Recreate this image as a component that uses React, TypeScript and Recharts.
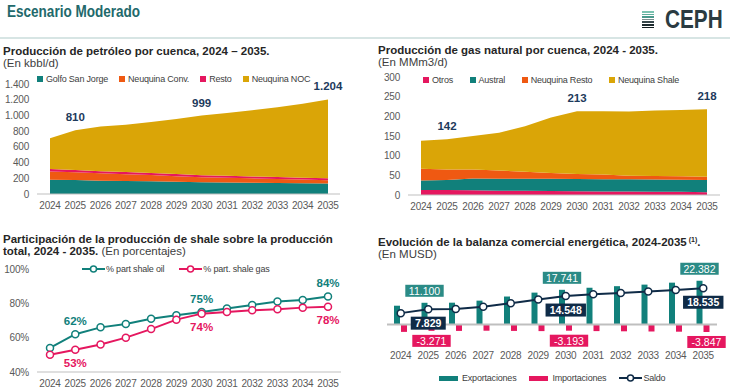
import React from "react";
import {
  AreaChart, Area, LineChart, Line, ComposedChart, Bar,
  XAxis, YAxis, LabelList, ReferenceLine,
} from "recharts";

const YEARS = ["2024", "2025", "2026", "2027", "2028", "2029", "2030", "2031", "2032", "2033", "2034", "2035"];
const LABEL_IDX = [1, 6, 11];

// petróleo (kbbl/d)
const OIL_GOLFO = [182, 177, 170, 166, 162, 155, 149, 146, 143, 140, 137, 133];
const OIL_CONV = [105, 99, 93, 86, 79, 71, 64, 60, 56, 52, 47, 42];
const OIL_RESTO = [30, 29, 28, 28, 27, 27, 26, 26, 25, 25, 24, 24];
const OIL_NOC = [393, 505, 569, 600, 647, 702, 760, 798, 841, 888, 942, 1005];
const OIL_TICKS = [0, 200, 400, 600, 800, 1000, 1200, 1400];

// gas (MMm3/d)
const GAS_OTROS = [13, 12.5, 12, 11, 10.5, 10, 9.5, 9, 9, 8.5, 8, 7];
const GAS_AUSTRAL = [24, 25.5, 30, 30, 30.5, 31, 31, 31, 31, 31, 31, 31];
const GAS_RESTO = [30, 27, 23, 21, 18, 15, 13, 12, 9, 9, 8.5, 8.5];
const GAS_SHALE = [71, 77, 85, 96, 116, 141, 159.5, 161, 163, 166.5, 168.5, 171.5];
const GAS_TICKS = [0, 50, 100, 150, 200, 250, 300];

// participación shale (%)
const SHARE_OIL = [54, 62, 66, 68, 71, 73, 75, 77, 79, 81, 82, 84];
const SHARE_GAS = [50, 53, 56, 60, 65, 70.5, 74, 75, 76, 76.5, 77.5, 78];
const SHARE_TICKS = [40, 60, 80, 100];

// balanza comercial (MUSD)
const EXPORTS = [9600, 11100, 11150, 12200, 14300, 16300, 17741, 18800, 19600, 20400, 21400, 22382];
const IMPORTS = [-3800, -3271, -3300, -3200, -3300, -3400, -3193, -3400, -3500, -3600, -3700, -3847];
const SALDO = [5800, 7829, 7900, 9100, 10900, 12800, 14548, 15500, 16100, 16900, 17700, 18535];

const TEAL = "#11807b";
const TEAL_BOX = "#2b8b86";
const ORANGE = "#ef5912";
const PINK = "#e5175f";
const GOLD = "#daa507";
const NAVY = "#0f2b47";
const LABEL_NAVY = "#1d3a5c";

const SANS = "'Liberation Sans', Arial, sans-serif";

const tickStyle = { fontSize: 10, fill: "#595959", fontFamily: SANS, letterSpacing: -0.2 };
const legendText = { fontFamily: SANS, fontSize: 9, letterSpacing: -0.2, color: "#404040" };

function fmt(v: number) {
  return Math.round(v).toString().replace(/\B(?=(\d{3})+(?!\d))/g, ".");
}

const oilData = YEARS.map((y, i) => ({
  year: y, golfo: OIL_GOLFO[i], conv: OIL_CONV[i], resto: OIL_RESTO[i], noc: OIL_NOC[i],
}));
const gasData = YEARS.map((y, i) => ({
  year: y, otros: GAS_OTROS[i], austral: GAS_AUSTRAL[i], resto: GAS_RESTO[i], shale: GAS_SHALE[i],
}));
const shareData = YEARS.map((y, i) => ({ year: y, oil: SHARE_OIL[i], gas: SHARE_GAS[i] }));
const balData = YEARS.map((y, i) => ({ year: y, exp: EXPORTS[i], imp: IMPORTS[i], saldo: SALDO[i] }));

const oilTotals = YEARS.map((_, i) => OIL_GOLFO[i] + OIL_CONV[i] + OIL_RESTO[i] + OIL_NOC[i]);
const gasTotals = YEARS.map((_, i) => GAS_OTROS[i] + GAS_AUSTRAL[i] + GAS_RESTO[i] + GAS_SHALE[i]);

const totalLabel = (totals: number[]) => (p: any) => {
  if (!LABEL_IDX.includes(p.index)) return null;
  return (
    <text x={p.x} y={p.y - 13} textAnchor="middle" dominantBaseline="central"
      fontSize={11.5} fontWeight={700} fill={LABEL_NAVY} fontFamily={SANS}>
      {fmt(totals[p.index])}
    </text>
  );
};

const shareLabel = (vals: number[], color: string, dy: number) => (p: any) => {
  if (!LABEL_IDX.includes(p.index)) return null;
  return (
    <text x={p.x} y={p.y + dy} textAnchor="middle" dominantBaseline="central"
      fontSize={11.5} fontWeight={700} fill={color} fontFamily={SANS}>
      {Math.round(vals[p.index])}%
    </text>
  );
};

function boxW(txt: string) {
  return txt.length * 5.4 + 6;
}

const ExportLabel = (p: any) => {
  if (!LABEL_IDX.includes(p.index)) return null;
  const top = Math.min(p.y, p.y + p.height);
  const cx = p.x + p.width / 2;
  const txt = fmt(EXPORTS[p.index]);
  const w = boxW(txt);
  return (
    <g>
      <rect x={cx - w / 2} y={top - 18} width={w} height={12} fill={TEAL_BOX} />
      <text x={cx} y={top - 12} textAnchor="middle" dominantBaseline="central" fill="#fff" fontSize={10.5} fontFamily={SANS}>{txt}</text>
    </g>
  );
};

const ImportLabel = (p: any) => {
  if (!LABEL_IDX.includes(p.index)) return null;
  const bottom = Math.max(p.y, p.y + p.height);
  const cx = p.x + p.width / 2;
  const txt = fmt(IMPORTS[p.index]);
  const w = boxW(txt);
  return (
    <g>
      <rect x={cx - w / 2} y={bottom + 4} width={w} height={12} fill={PINK} />
      <text x={cx} y={bottom + 10} textAnchor="middle" dominantBaseline="central" fill="#fff" fontSize={10.5} fontFamily={SANS}>{txt}</text>
    </g>
  );
};

const SaldoLabel = (p: any) => {
  if (!LABEL_IDX.includes(p.index)) return null;
  const txt = fmt(SALDO[p.index]);
  const w = boxW(txt) + 2;
  return (
    <g>
      <rect x={p.x - w / 2} y={p.y + 7.5} width={w} height={13} fill={NAVY} />
      <text x={p.x} y={p.y + 14} textAnchor="middle" dominantBaseline="central" fill="#fff" fontSize={10.5} fontWeight={700} fontFamily={SANS}>{txt}</text>
    </g>
  );
};

function SquareLegend({ left, top, gap, items }: { left: number; top: number; gap: number; items: { label: string; color: string }[] }) {
  return (
    <div style={{ position: "absolute", left, top, height: 12, display: "flex", alignItems: "center", gap, ...legendText }}>
      {items.map((it) => (
        <div key={it.label} style={{ display: "flex", alignItems: "center", gap: 3 }}>
          <span style={{ width: 6, height: 6, background: it.color, display: "inline-block" }} />
          <span>{it.label}</span>
        </div>
      ))}
    </div>
  );
}

function LineMark({ color }: { color: string }) {
  return (
    <svg width={23} height={8} style={{ display: "block" }}>
      <line x1={0} y1={4} x2={23} y2={4} stroke={color} strokeWidth={2} />
      <circle cx={11.5} cy={4} r={3} fill="#fff" stroke={color} strokeWidth={1.5} />
    </svg>
  );
}

function Title({ left, top, children }: { left: number; top: number; children: React.ReactNode }) {
  return (
    <div style={{ position: "absolute", left, top, fontFamily: SANS, fontSize: 11.5, lineHeight: "11.5px", color: "#262626", whiteSpace: "nowrap" }}>
      {children}
    </div>
  );
}

function Logo() {
  const stripes = ["#7cc3b1", "#5fae9c", "#4a9a8c", "#7d8f8f", "#39494d", "#1d2b2f", "#111c1f"];
  return (
    <div style={{ position: "absolute", left: 642, top: 8 }}>
      <div style={{ position: "absolute", left: 0, top: 3 }}>
        {stripes.map((c, i) => (
          <div key={i} style={{ width: 12, height: 1.6, background: c, marginBottom: 1 }} />
        ))}
      </div>
      <div style={{ position: "absolute", left: 23, top: -1, fontFamily: SANS, fontWeight: 700, fontSize: 25, lineHeight: "25px", color: "#2a3b41", transform: "scaleX(0.83)", transformOrigin: "left center", whiteSpace: "nowrap" }}>CEPH</div>
    </div>
  );
}

export default function App() {
  return (
    <div style={{ position: "absolute", left: 0, top: 0, width: 730, height: 391, background: "#fff", overflow: "hidden", fontFamily: SANS }}>
      <div style={{ position: "absolute", left: 7, top: 1, fontFamily: SANS, fontWeight: 700, fontSize: 16.5, lineHeight: "20px", color: "#22696b", transform: "scaleX(0.82)", transformOrigin: "left center", whiteSpace: "nowrap" }}>
        Escenario Moderado
      </div>
      <Logo />
      <div style={{ position: "absolute", left: 0, top: 37, width: 730, height: 2, background: "#d7e5e4" }} />

      {/* Petróleo */}
      <Title left={3} top={46}>
        <b>Producción de petróleo por cuenca, 2024 – 2035.</b><br />
        <span style={{ color: "#404040" }}>(En kbbl/d)</span>
      </Title>
      <SquareLegend left={37} top={73} gap={11} items={[
        { label: "Golfo San Jorge", color: TEAL },
        { label: "Neuquina Conv.", color: ORANGE },
        { label: "Resto", color: PINK },
        { label: "Neuquina NOC", color: GOLD },
      ]} />
      <div style={{ position: "absolute", left: 0, top: 78 }}>
        <AreaChart width={360} height={140} data={oilData} margin={{ top: 6, right: 20, left: 0, bottom: 0 }}>
          <XAxis dataKey="year" tick={tickStyle} tickLine={false} axisLine={{ stroke: "#bfbfbf" }} height={24} padding={{ left: 13, right: 12 }} interval={0} />
          <YAxis domain={[0, 1400]} ticks={OIL_TICKS} interval={0} tick={tickStyle} tickFormatter={fmt} axisLine={false} tickLine={false} width={37} />
          <Area type="linear" dataKey="golfo" stackId="1" stroke="none" fill={TEAL} fillOpacity={1} isAnimationActive={false} />
          <Area type="linear" dataKey="conv" stackId="1" stroke="none" fill={ORANGE} fillOpacity={1} isAnimationActive={false} />
          <Area type="linear" dataKey="resto" stackId="1" stroke="none" fill={PINK} fillOpacity={1} isAnimationActive={false} />
          <Area type="linear" dataKey="noc" stackId="1" stroke="none" fill={GOLD} fillOpacity={1} isAnimationActive={false}>
            <LabelList dataKey="noc" content={totalLabel(oilTotals)} />
          </Area>
        </AreaChart>
      </div>

      {/* Gas */}
      <Title left={378} top={45}>
        <b>Producción de gas natural por cuenca, 2024 - 2035.</b><br />
        <span style={{ color: "#404040" }}>(En MMm3/d)</span>
      </Title>
      <SquareLegend left={423} top={74} gap={16.5} items={[
        { label: "Otros", color: PINK },
        { label: "Austral", color: TEAL },
        { label: "Neuquina Resto", color: ORANGE },
        { label: "Neuquina Shale", color: GOLD },
      ]} />
      <div style={{ position: "absolute", left: 365, top: 72 }}>
        <AreaChart width={365} height={147} data={gasData} margin={{ top: 5, right: 10, left: 0, bottom: 0 }}>
          <XAxis dataKey="year" tick={tickStyle} tickLine={false} axisLine={{ stroke: "#bfbfbf" }} height={24} padding={{ left: 13, right: 13 }} interval={0} />
          <YAxis domain={[0, 300]} ticks={GAS_TICKS} interval={0} tick={tickStyle} axisLine={false} tickLine={false} width={43} />
          <Area type="linear" dataKey="otros" stackId="1" stroke="none" fill={PINK} fillOpacity={1} isAnimationActive={false} />
          <Area type="linear" dataKey="austral" stackId="1" stroke="none" fill={TEAL} fillOpacity={1} isAnimationActive={false} />
          <Area type="linear" dataKey="resto" stackId="1" stroke="none" fill={ORANGE} fillOpacity={1} isAnimationActive={false} />
          <Area type="linear" dataKey="shale" stackId="1" stroke="none" fill={GOLD} fillOpacity={1} isAnimationActive={false}>
            <LabelList dataKey="shale" content={totalLabel(gasTotals)} />
          </Area>
        </AreaChart>
      </div>

      {/* Participación shale */}
      <Title left={3} top={234}>
        <b>Participación de la producción de shale sobre la producción</b><br />
        <b>total, 2024 - 2035.</b> <span style={{ color: "#404040" }}>(En porcentajes)</span>
      </Title>
      <div style={{ position: "absolute", left: 82, top: 263, height: 12, display: "flex", alignItems: "center", gap: 15, ...legendText }}>
        <div style={{ display: "flex", alignItems: "center", gap: 1 }}><LineMark color={TEAL} /><span>% part shale oil</span></div>
        <div style={{ display: "flex", alignItems: "center", gap: 1 }}><LineMark color={PINK} /><span>% part. shale gas</span></div>
      </div>
      <div style={{ position: "absolute", left: 0, top: 262 }}>
        <LineChart width={360} height={129} data={shareData} margin={{ top: 7, right: 19, left: 0, bottom: 0 }}>
          <XAxis dataKey="year" tick={tickStyle} tickLine={false} axisLine={{ stroke: "#bfbfbf" }} height={19} padding={{ left: 13, right: 13 }} interval={0} />
          <YAxis domain={[40, 100]} ticks={SHARE_TICKS} interval={0} tick={tickStyle} tickFormatter={(v: number) => `${v}%`} axisLine={false} tickLine={false} width={37} />
          <Line type="linear" dataKey="oil" stroke={TEAL} strokeWidth={2} dot={{ r: 3.5, fill: "#fff", stroke: TEAL, strokeWidth: 1.5 }} isAnimationActive={false}>
            <LabelList dataKey="oil" content={shareLabel(SHARE_OIL, TEAL, -13)} />
          </Line>
          <Line type="linear" dataKey="gas" stroke={PINK} strokeWidth={2} dot={{ r: 3.5, fill: "#fff", stroke: PINK, strokeWidth: 1.5 }} isAnimationActive={false}>
            <LabelList dataKey="gas" content={shareLabel(SHARE_GAS, PINK, 13)} />
          </Line>
        </LineChart>
      </div>

      {/* Balanza comercial */}
      <Title left={378} top={234}>
        <b>Evolución de la balanza comercial energética, 2024-2035</b>
        <b style={{ fontSize: 7, verticalAlign: "4px" }}> (1)</b><b>.</b><br />
        <span style={{ color: "#404040" }}>(En MUSD)</span>
      </Title>
      <div style={{ position: "absolute", left: 365, top: 255 }}>
        <ComposedChart width={365} height={111} data={balData} margin={{ top: 5, right: 13, left: 22, bottom: 0 }} barGap={1}>
          <XAxis dataKey="year" tick={tickStyle} tickLine={false} axisLine={false} height={22} interval={0} />
          <YAxis hide domain={[-10000, 33000]} />
          <ReferenceLine y={0} stroke="#bfbfbf" strokeWidth={2} />
          <Bar dataKey="exp" fill={TEAL} barSize={6} isAnimationActive={false}>
            <LabelList dataKey="exp" content={ExportLabel} />
          </Bar>
          <Bar dataKey="imp" fill={PINK} barSize={6} isAnimationActive={false}>
            <LabelList dataKey="imp" content={ImportLabel} />
          </Bar>
          <Line type="linear" dataKey="saldo" stroke={NAVY} strokeWidth={2} dot={{ r: 3.5, fill: "#fff", stroke: NAVY, strokeWidth: 1.5 }} isAnimationActive={false}>
            <LabelList dataKey="saldo" content={SaldoLabel} />
          </Line>
        </ComposedChart>
      </div>
      <div style={{ position: "absolute", left: 439, top: 372, height: 12, display: "flex", alignItems: "center", gap: 13, ...legendText }}>
        <div style={{ display: "flex", alignItems: "center", gap: 4 }}>
          <span style={{ width: 19, height: 5, background: TEAL, display: "inline-block" }} /><span>Exportaciones</span>
        </div>
        <div style={{ display: "flex", alignItems: "center", gap: 4 }}>
          <span style={{ width: 19, height: 5, background: PINK, display: "inline-block" }} /><span>Importaciones</span>
        </div>
        <div style={{ display: "flex", alignItems: "center", gap: 1 }}>
          <LineMark color={NAVY} /><span>Saldo</span>
        </div>
      </div>
    </div>
  );
}
